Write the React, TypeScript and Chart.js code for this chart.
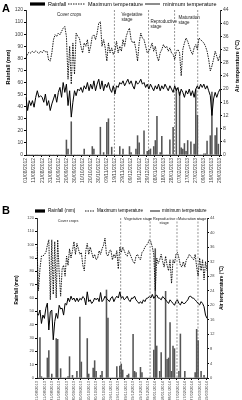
import React, { useEffect, useRef } from "react";
import { Chart, registerables } from "chart.js";
Chart.register(...registerables);

// ---------- Panel A data (2-day steps, 01/08/2012 – 29/03/2013) ----------
const tickLabelsA = [
  "01/08/2012", "11/08/2012", "21/08/2012", "31/08/2012", "10/09/2012", "20/09/2012", "30/09/2012",
  "10/10/2012", "20/10/2012", "30/10/2012", "09/11/2012", "19/11/2012", "29/11/2012", "09/12/2012",
  "19/12/2012", "29/12/2012", "08/01/2013", "18/01/2013", "28/01/2013", "07/02/2013", "17/02/2013",
  "27/02/2013", "09/03/2013", "19/03/2013", "29/03/2013",
];
const rainA = [
  0, 0, 0, 0, 0, 0, 0, 0, 0, 0,
  0, 0, 0, 0, 0, 0, 0, 0, 0, 0,
  0, 0, 0, 0, 0, 12.4, 5, 0, 27.5, 0,
  0, 0, 0, 0, 0, 0, 5, 0, 0, 0,
  0, 7, 5, 0, 0, 0, 23, 0, 2, 0,
  27, 30, 0, 6.5, 0, 0, 0, 0, 7, 0,
  5, 0, 0, 0, 7, 2, 0, 0, 5, 16,
  10, 0, 0, 20, 0, 3, 4, 5, 0, 7,
  12, 32, 0, 2, 15.5, 0, 0, 0, 0, 12.5,
  0, 23, 0, 55, 0, 52, 6, 5, 9.5, 3,
  12, 0, 11, 0, 9, 54, 33, 0, 0, 0,
  1, 1, 11.5, 0, 16, 52, 0, 16, 22.5, 9,
  0,
];
const maxTempA = [
  29.5, 30.8, 31.2, 30.9, 31.5, 31.0, 31.6, 31.2, 30.8, 31.5,
  31.0, 31.8, 31.3, 31.5, 28.8, 28.5, 31, 35, 36.5, 36,
  37, 36.5, 37.5, 38.5, 39, 36, 23, 33, 21.5, 34,
  24.5, 37, 36, 35.5, 33, 31, 34, 33, 35, 31,
  33, 36, 36.5, 35, 37, 40, 40.5, 33, 35, 32.5,
  28.5, 34, 31, 32.5, 30.5, 31.5, 34.5, 31, 33, 31.5,
  35, 33, 36, 37.5, 38.5, 35, 34, 34.5, 32, 28.5,
  34, 37, 35.5, 35, 33, 31, 31.5, 32.5, 34, 31.5,
  33, 30, 28.5, 31, 32, 33.5, 32.5, 33, 31.5, 32.5,
  31, 30.5, 29, 31.5, 32, 31, 24, 32, 34, 35.5,
  34.5, 33, 31.5, 30.5, 32.5, 33.5, 32, 35.5, 35, 34.5,
  34, 33, 31.5, 29, 25.5, 27, 29, 31.5, 30, 28.5,
  30.5,
];
const minTempA = [
  17.5, 13.5, 16.5, 15, 16.5, 14.5, 17.5, 19.5, 17.5, 18,
  17.5, 16, 18.5, 15, 16.5, 13.5, 15.5, 17, 18.5, 16,
  19, 20.5, 17.5, 22, 19, 21.5, 15, 19.5, 11.5, 16,
  19.5, 18, 20, 19.5, 20.5, 19, 21, 20, 22, 19.5,
  21.5, 20, 22.5, 19.5, 21.5, 23, 20, 22.5, 19.5, 21.5,
  20.5, 22, 20, 19, 21, 18.5, 21, 20.5, 22, 21.5,
  22.5, 21, 22, 23, 21.5, 22.5, 21, 20, 22.5, 21.5,
  22, 23, 21.5, 22, 20.5, 21.5, 20, 21.5, 20.5, 19.5,
  21, 20, 21.5, 19.5, 21, 20, 21.5, 20.5, 19.5, 21,
  20, 19, 21, 19.5, 20.5, 18, 20, 19, 17.5, 19.5,
  18.5, 20, 18, 19.5, 17.5, 20, 21, 20, 21.5, 20.5,
  21.5, 20, 21, 19.5, 18, 12, 17, 19, 17.5, 19,
  20,
];
const stageBoundsA = [54.7, 75.8, 91.9, 106.2];

// ---------- Panel B data (2-day steps, 01/08/2013 – 19/03/2014) ----------
const tickLabelsB = [
  "01/08/2013", "11/08/2013", "21/08/2013", "31/08/2013", "10/09/2013", "20/09/2013", "30/09/2013",
  "10/10/2013", "20/10/2013", "30/10/2013", "09/11/2013", "19/11/2013", "29/11/2013", "09/12/2013",
  "19/12/2013", "29/12/2013", "08/01/2014", "18/01/2014", "28/01/2014", "07/02/2014", "17/02/2014",
  "27/02/2014", "09/03/2014", "19/03/2014",
];
const rainB = [
  0, 0, 30.4, 1, 0, 0, 0, 15, 20.5, 0,
  3, 0, 0, 29.5, 29, 0, 7, 0, 0, 0,
  0, 1, 16, 0, 2, 0, 0, 5, 0, 45.7,
  12, 0, 0, 0, 29.6, 3, 0, 0, 7.4, 13,
  5, 0, 0, 2, 5, 0, 0, 66, 45, 0,
  0, 0, 0, 0, 8.5, 0, 9, 10.5, 6, 0,
  0, 2, 3, 0, 0, 32.8, 5, 4, 0, 0,
  8, 4, 0, 0, 0, 0, 0, 0, 0, 21,
  97, 24, 0, 5, 19, 0, 0, 65, 14, 15,
  41.5, 5, 24, 22, 0, 0, 5, 33, 0, 0,
  5, 0, 0, 0, 0, 0, 0, 4, 36.5, 28,
  0, 5, 0, 2, 0, 0,
];
const maxTempB = [
  36, 24, 30, 33.5, 33.5, 34, 34.5, 36.5, 38, 21.5,
  38, 23, 37.5, 22, 38, 29, 22.5, 30, 31, 28,
  33.5, 31, 35.5, 33, 35, 37.5, 34, 37, 35.5, 34,
  34.5, 31, 29.5, 35, 37, 34, 36, 34.5, 33, 34,
  32.5, 33, 35, 34, 35.5, 36.5, 38.5, 34, 33.5, 35,
  35.2, 32.5, 34, 33, 35, 30, 36, 34.5, 36, 35,
  34, 33.5, 35, 34, 33, 32, 31.5, 33.5, 34, 33,
  32.5, 34.5, 35, 36, 36.5, 37, 38, 37.5, 36, 34,
  24, 33, 31.5, 32.5, 34, 32, 30.5, 33.5, 31, 29.5,
  32.5, 26, 32.5, 31.5, 34, 34.5, 33, 31, 30.5, 32,
  30.5, 32.5, 33, 34, 33.5, 33, 32.5, 34, 30.5, 28,
  33, 29.5, 32.5, 27, 32, 29.5,
];
const minTempB = [
  17.6, 17.3, 18.7, 15, 17.3, 16.4, 19.2, 20.6, 13.2, 18.2,
  18.7, 10.5, 15.5, 17.8, 16.4, 20, 19, 19.2, 17.3, 20.5,
  20.1, 22, 21, 22.5, 21.5, 22, 21, 22, 21, 21.9,
  21.5, 22.4, 22, 20.1, 23.7, 21, 21.5, 20.5, 21, 22,
  21.5, 22, 21, 23.5, 21, 21.5, 22.5, 21.9, 21.5, 21,
  22, 22.4, 21, 21.9, 22.5, 22, 23.7, 21.9, 22.4, 21.5,
  21.9, 22.5, 21.5, 21, 22, 21.9, 22.5, 21.5, 21, 20.5,
  21, 20.5, 21.5, 21, 21.9, 22, 22.4, 22, 23, 21.9,
  22.5, 22.8, 22, 21.9, 21.5, 22.4, 22, 21.5, 21, 20.5,
  21.5, 21, 20.5, 20, 21, 21.5, 20.5, 20.1, 21, 20.5,
  20.5, 21, 21.5, 22.4, 22.5, 22, 21.9, 21.5, 21, 20.5,
  20.1, 21, 20.5, 19.6, 17.3, 16.4,
];
const stageBoundsB = [56.6, 76.5, 94.7, 108.9];

const FONT = '"Liberation Sans", Arial, sans-serif';
const f = (size: number, bold = false) => `${bold ? "bold " : ""}${size}px ${FONT}`;

type StageLabel = { lines: string[]; at: number; y: number; align: CanvasTextAlign };
type LegendItem = { kind: "bar" | "dash" | "solid"; x0: number; x1: number; tx: number; text: string };

interface PanelCfg {
  letter: string;
  top: number;
  height: number;
  plot: { left: number; right: number; top: number; bottom: number };
  tickLabels: string[];
  rain: number[];
  maxT: number[];
  minT: number[];
  stages: number[];
  stageLabels: StageLabel[];
  stageFont: number;
  legend: LegendItem[];
  legendY: number;
  legendFont: number;
  letterY: number;
  tickFont: number;
  titleFont: number;
  leftTitle: { x: number; y: number };
  rightTitle: { x: number; y: number };
}

function makeDecor(p: PanelCfg) {
  return {
    id: "decor",
    beforeDatasetsDraw(chart: any) {
      const { ctx, chartArea: a, scales } = chart;
      ctx.save();
      ctx.strokeStyle = "#666";
      ctx.lineWidth = 0.7;
      ctx.setLineDash([2, 1.5]);
      p.stages.forEach((b) => {
        const x = scales.x.getPixelForValue(b);
        ctx.beginPath();
        ctx.moveTo(x, a.top);
        ctx.lineTo(x, a.bottom);
        ctx.stroke();
      });
      ctx.restore();
    },
    afterDraw(chart: any) {
      const { ctx, scales } = chart;
      ctx.save();
      ctx.fillStyle = "#000";
      ctx.font = f(11, true);
      ctx.textAlign = "left";
      ctx.textBaseline = "alphabetic";
      ctx.fillText(p.letter, 2, p.letterY);
      ctx.font = f(p.legendFont);
      ctx.textBaseline = "middle";
      p.legend.forEach((it) => {
        if (it.kind === "bar") {
          ctx.fillRect(it.x0, p.legendY - 1.6, it.x1 - it.x0, 3.2);
        } else {
          ctx.beginPath();
          ctx.strokeStyle = "#000";
          ctx.lineWidth = 0.9;
          ctx.setLineDash(it.kind === "dash" ? [1.5, 1] : []);
          ctx.moveTo(it.x0, p.legendY);
          ctx.lineTo(it.x1, p.legendY);
          ctx.stroke();
          ctx.setLineDash([]);
        }
        ctx.fillText(it.text, it.tx, p.legendY);
      });
      ctx.font = f(p.stageFont);
      ctx.fillStyle = "#222";
      ctx.textBaseline = "middle";
      p.stageLabels.forEach((s) => {
        const x = scales.x.getPixelForValue(s.at);
        ctx.textAlign = s.align;
        s.lines.forEach((ln, i) => ctx.fillText(ln, x, s.y + i * (p.stageFont + 0.6)));
      });
      ctx.fillStyle = "#000";
      ctx.font = f(p.titleFont, true);
      ctx.textAlign = "center";
      ctx.textBaseline = "middle";
      ctx.save();
      ctx.translate(p.leftTitle.x, p.leftTitle.y);
      ctx.rotate(-Math.PI / 2);
      ctx.fillText("Rainfall (mm)", 0, 0);
      ctx.restore();
      ctx.save();
      ctx.translate(p.rightTitle.x, p.rightTitle.y);
      ctx.rotate(-Math.PI / 2);
      ctx.fillText("Air temperature (°C)", 0, 0);
      ctx.restore();
      ctx.restore();
    },
  };
}

function Panel({ p }: { p: PanelCfg }) {
  const ref = useRef<HTMLCanvasElement | null>(null);
  useEffect(() => {
    const labels = p.maxT.map((_, i) => String(i));
    const W = 242;
    const chart = new Chart(ref.current as HTMLCanvasElement, {
      type: "bar",
      data: {
        labels,
        datasets: [
          {
            type: "line",
            label: "Maximum temperature",
            data: p.maxT,
            yAxisID: "y1",
            borderColor: "#000",
            borderWidth: 0.9,
            borderDash: [1.5, 1],
            pointRadius: 0,
            tension: 0,
            order: 1,
          } as any,
          {
            type: "line",
            label: "minimum temperature",
            data: p.minT,
            yAxisID: "y1",
            borderColor: "#000",
            borderWidth: 1,
            pointRadius: 0,
            tension: 0,
            order: 2,
          } as any,
          {
            type: "bar",
            label: "Rainfall",
            data: p.rain,
            yAxisID: "y",
            backgroundColor: "#555",
            barThickness: 0.9,
            order: 3,
          } as any,
        ],
      },
      options: {
        responsive: false,
        animation: false,
        layout: { padding: { top: p.plot.top, left: 0, right: 0, bottom: 0 } },
        plugins: { legend: { display: false }, tooltip: { enabled: false } },
        scales: {
          x: {
            offset: false,
            afterFit: (s: any) => {
              s.height = p.height - p.plot.bottom;
            },
            grid: {
              drawOnChartArea: false,
              tickLength: 2,
              color: (c: any) => (c.index % 5 === 0 ? "#000" : "rgba(0,0,0,0)"),
            },
            border: { color: "#000", width: 0.8 },
            ticks: {
              autoSkip: false,
              minRotation: 90,
              maxRotation: 90,
              padding: 1,
              color: "#444",
              font: { size: p.tickFont, family: FONT },
              callback: (_v: any, i: number) => (i % 5 === 0 ? p.tickLabels[i / 5] ?? "" : ""),
            },
          },
          y: {
            position: "left",
            min: 0,
            max: 120,
            afterFit: (s: any) => {
              s.width = p.plot.left;
            },
            grid: { drawOnChartArea: false, tickLength: 2, color: "#000" },
            border: { color: "#000", width: 0.8 },
            ticks: { stepSize: 10, padding: 1, color: "#444", font: { size: p.tickFont, family: FONT } },
          },
          y1: {
            position: "right",
            min: 0,
            max: 44,
            afterFit: (s: any) => {
              s.width = W - p.plot.right;
            },
            grid: { drawOnChartArea: false, tickLength: 2, color: "#000" },
            border: { color: "#000", width: 0.8 },
            ticks: { stepSize: 4, padding: 1, color: "#444", font: { size: p.tickFont, family: FONT } },
          },
        },
      } as any,
      plugins: [makeDecor(p)],
    });
    return () => chart.destroy();
  }, []);
  return (
    <canvas
      ref={ref}
      width={242}
      height={p.height}
      style={{ position: "absolute", left: 0, top: p.top, width: 242, height: p.height }}
    />
  );
}

const panelA: PanelCfg = {
  letter: "A",
  top: 0,
  height: 192,
  plot: { left: 26, right: 220, top: 10, bottom: 155 },
  tickLabels: tickLabelsA,
  rain: rainA,
  maxT: maxTempA,
  minT: minTempA,
  stages: stageBoundsA,
  stageLabels: [
    { lines: ["Cover crops"], at: 26.7, y: 15, align: "center" },
    { lines: ["Vegetative", "stage"], at: 59, y: 15, align: "left" },
    { lines: ["Reproductive", "stage"], at: 77, y: 22, align: "left" },
    { lines: ["Maturation", "stage"], at: 94.4, y: 18, align: "left" },
  ],
  stageFont: 4.5,
  legend: [
    { kind: "bar", x0: 30, x1: 45, tx: 48, text: "Rainfall" },
    { kind: "dash", x0: 68, x1: 85, tx: 88, text: "Maximum temperature" },
    { kind: "solid", x0: 145, x1: 160, tx: 163, text: "minimum temperature" },
  ],
  legendY: 4,
  legendFont: 5.5,
  letterY: 12,
  tickFont: 5,
  titleFont: 5.5,
  leftTitle: { x: 8, y: 67 },
  rightTitle: { x: 237, y: 66 },
};

const panelB: PanelCfg = {
  letter: "B",
  top: 200,
  height: 200,
  plot: { left: 37, right: 207, top: 18, bottom: 178 },
  tickLabels: tickLabelsB,
  rain: rainB,
  maxT: maxTempB,
  minT: minTempB,
  stages: stageBoundsB,
  stageLabels: [
    { lines: ["Cover crops"], at: 21, y: 21, align: "center" },
    { lines: ["Vegetative stage"], at: 58.9, y: 19, align: "left" },
    { lines: ["Reproductive", "stage"], at: 86, y: 19, align: "center" },
    { lines: ["Maturation stage"], at: 95.4, y: 19, align: "left" },
  ],
  stageFont: 3.8,
  legend: [
    { kind: "bar", x0: 35, x1: 45, tx: 48, text: "Rainfall (mm)" },
    { kind: "dash", x0: 85, x1: 95, tx: 97, text: "Maximum temperature" },
    { kind: "solid", x0: 150, x1: 160, tx: 162, text: "minimum temperature" },
  ],
  legendY: 11,
  legendFont: 4.6,
  letterY: 14,
  tickFont: 4,
  titleFont: 4.6,
  leftTitle: { x: 17, y: 90 },
  rightTitle: { x: 222, y: 88 },
};

export default function App() {
  return (
    <div style={{ position: "absolute", left: 0, top: 0, width: 242, height: 400, background: "#fff" }}>
      <Panel p={panelA} />
      <Panel p={panelB} />
    </div>
  );
}
